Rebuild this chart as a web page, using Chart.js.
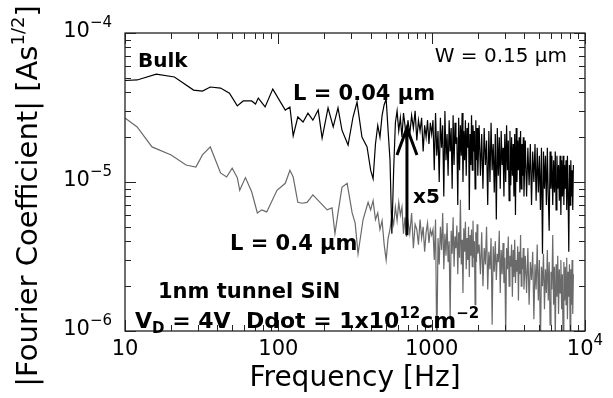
<!DOCTYPE html>
<html>
<head>
<meta charset="utf-8">
<script src="https://cdn.jsdelivr.net/npm/chart.js@4"></script>
<style>
  html, body { margin: 0; padding: 0; background: #fff; }
  #wrap { width: 613px; height: 398px; }
</style>
</head>
<body>
<div id="wrap"><canvas id="noiseChart" width="613" height="398"></canvas></div>
<script>
// values are |Fourier coefficient| in units of 1e-6 A s^1/2
const Y_UNIT = 1e-6;

// --- low-frequency part, each curve read separately ---
const freqL004 = [10, 12, 16, 21, 28, 32, 36, 42, 48, 54, 59, 67, 71, 74, 82, 92, 111, 119, 125, 134,
  145, 156, 168, 182, 193, 211, 228, 245, 260, 285, 307, 326, 351, 379];
const coefL004 = [48, 48.4, 53, 50.7, 41.4, 40.8, 43.4, 42.7, 39.5, 32.4, 35, 35, 33.4, 36.6, 31.9, 42, 30.4, 31.9, 20.4, 27.3,
  25.3, 29, 26, 30.4, 19.7, 31.4, 23.4, 31.4, 22.3, 17.7, 27.3, 34.4, 20, 17.2];

const freqL04 = [10, 12, 15, 20, 25, 29, 32, 36, 42, 46, 50, 54, 56, 61, 67, 73, 78, 84, 98, 111,
  119, 125, 134, 143, 154, 168, 187, 208, 224, 234, 245, 260, 281, 303, 317, 331, 357, 385];
const coefL04 = [26.9, 23.4, 17.2, 15.2, 13, 12.6, 15.2, 17.2, 11.5, 10.8, 12.4, 10.7, 8.8, 10.7, 8.6, 6.2, 6.5, 6.3, 8.8, 9.8,
  12, 10.8, 7.3, 7.2, 7.3, 8.2, 7.3, 6.5, 6.7, 4.5, 6.2, 9.2, 9.8, 6.2, 5.3, 3.3, 5.6, 7.3];

// --- noisy part, shared frequency grid ---
const midFreq = [400, 415, 430, 445, 460, 475, 490, 505, 520, 535, 550, 565, 580, 595, 610, 625, 640, 655, 670, 685, 700,
  720, 740, 760, 780, 800, 820, 840, 860, 880, 900, 920, 940, 960, 980, 1000];
const midL004 = [12, 10.5, 18, 24, 20, 28, 33, 36, 22, 14, 4.5, 12, 25, 30, 22, 27, 20, 29, 24, 18, 26,
  21, 28, 23, 30, 19, 26, 22, 27, 16, 24, 20, 26, 18, 25, 21];
const midL04 = [6.5, 7.5, 5.6, 6.2, 4.8, 5.5, 3.8, 3.0, 4.2, 4.8, 6.0, 5.2, 6.8, 5.5, 7.3, 6.0, 6.8, 4.5, 5.8, 4.3, 5.5,
  4.5, 6.2, 3.6, 5.2, 4.8, 3.8, 5.6, 4.2, 5.0, 3.4, 4.6, 5.3, 3.9, 4.8, 4.4];

const hiFreqA = [1020, 1040, 1060, 1080, 1100, 1120, 1140, 1160, 1180, 1200, 1220, 1240, 1260, 1280, 1300, 1320, 1340, 1360, 1380, 1400,
  1420, 1440, 1460, 1480, 1500, 1520, 1540, 1560, 1580, 1600, 1620, 1640, 1660, 1680, 1700, 1720, 1740, 1760, 1780, 1800,
  1820, 1840, 1860, 1880, 1900, 1920, 1940, 1960, 1980, 2000];
const hiFreqB = [2040, 2080, 2120, 2160, 2200, 2240, 2280, 2320, 2360, 2400, 2440, 2480, 2520, 2560, 2600, 2640, 2680, 2720, 2760, 2800,
  2840, 2880, 2920, 2960, 3000, 3040, 3080, 3120, 3160, 3200, 3240, 3280, 3320, 3360, 3400, 3440, 3480, 3520, 3560, 3600,
  3640, 3680, 3720, 3760, 3800, 3840, 3880, 3920, 3960, 4000];
const hiFreqC = [4080, 4160, 4240, 4320, 4400, 4480, 4560, 4640, 4720, 4800, 4880, 4960, 5040, 5120, 5200, 5280, 5360, 5440, 5520, 5600,
  5680, 5760, 5840, 5920, 6000, 6080, 6160, 6240, 6320, 6400, 6480, 6560, 6640, 6720, 6800, 6880, 6960, 7040, 7120, 7200,
  7280, 7360, 7440, 7520, 7600, 7680, 7760, 7840, 7920, 8000, 8080, 8160, 8240, 8320, 8400];

const hiL004A = [26, 12, 29, 15, 22, 10, 27, 17, 24, 8, 30, 14, 21, 11, 26, 16, 23, 9, 28, 13,
  25, 18, 20, 7, 27, 12, 24, 15, 29, 10, 22, 14, 26, 11, 23, 17, 25, 6.5, 21, 13,
  28, 12, 24, 16, 22, 9, 26, 14, 23, 11];
const hiL004B = [24, 11, 21, 9, 23, 13, 19, 7, 22, 10, 25, 12, 18, 8.5, 21, 5.6, 23, 11, 20, 9,
  22, 13, 17, 8, 21, 10, 24, 12, 19, 7.5, 22, 9.5, 20, 11, 18, 8, 21, 6, 23, 10,
  19, 12, 20, 8.5, 22, 9, 18, 11, 20, 8];
const hiL004C = [19, 8, 17, 9.5, 18, 7, 16, 10, 18, 7.5, 17, 8.5, 15, 6.5, 17, 3.3, 16, 9, 15, 7,
  17, 8, 4.7, 16, 9, 15, 7, 14, 8.5, 16, 6.5, 15, 9, 13, 7.5, 15, 6, 14, 8, 15,
  7, 13, 9, 14, 6.5, 15, 8, 3.4, 13, 7, 14, 8, 12, 6.5, 13];

const hiL04A = [4.8, 3.0, 5.6, 0.7, 4.2, 2.8, 5.0, 3.5, 6.2, 2.6, 4.5, 3.2, 5.3, 2.9, 4.0, 1.2, 4.7, 3.3, 5.8, 2.7,
  4.3, 3.6, 5.1, 2.4, 4.6, 3.1, 7.6, 2.8, 4.1, 1.8, 4.9, 3.4, 5.4, 2.6, 4.2, 3.0, 5.0, 2.3, 4.4, 3.2,
  4.8, 2.7, 5.5, 3.1, 4.0, 1.5, 4.6, 2.9, 5.2, 3.3];
const hiL04B = [3.8, 2.4, 4.6, 2.0, 3.6, 2.8, 5.0, 1.9, 3.4, 2.6, 4.2, 1.1, 3.7, 2.5, 4.0, 2.2, 3.3, 2.9, 4.7, 1.8,
  3.5, 2.4, 3.9, 2.1, 3.1, 0.9, 3.6, 2.6, 4.3, 2.0, 3.2, 2.7, 3.8, 1.7, 3.5, 2.3, 4.1, 2.1, 3.0, 2.5,
  3.7, 1.6, 3.4, 2.4, 4.4, 2.0, 3.1, 2.6, 3.6, 1.9];
const hiL04C = [3.2, 1.8, 3.6, 1.5, 2.9, 2.2, 3.4, 1.2, 2.8, 1.9, 3.8, 1.6, 3.0, 0.8, 2.7, 2.0, 3.3, 1.4, 2.6, 1.8,
  3.5, 1.6, 2.9, 1.1, 2.5, 1.9, 4.4, 1.5, 2.7, 0.9, 2.8, 1.7, 3.2, 1.3, 2.6, 1.8, 3.0, 1.4, 2.4, 0.8,
  2.9, 1.6, 2.7, 1.5, 3.1, 1.2, 2.5, 1.7, 2.8, 1.0, 2.6, 1.5, 3.0, 1.3, 2.4];

// axis decades
const xDecades = [10, 100, 1000, 10000];
const xDecadeExp = [null, null, null, 4];   // 10^4 written with exponent
const yDecades = [1e-6, 1e-5, 1e-4];
const yDecadeExp = [-6, -5, -4];

const FONT = '"DejaVu Sans", sans-serif';

function toPoints(freqs, coefs) {
  return freqs.map((f, i) => ({ x: f, y: coefs[i] * Y_UNIT }));
}

// draw a run of text pieces (for sub/superscripts); returns width
function textRuns(ctx, x, y, parts, draw) {
  let cx = x;
  parts.forEach(p => {
    ctx.font = (p.bold ? 'bold ' : '') + p.size + 'px ' + FONT;
    if (draw) ctx.fillText(p.t, cx, y + (p.dy || 0));
    cx += ctx.measureText(p.t).width;
  });
  return cx - x;
}

function runs(ctx, x, y, parts, align) {
  const w = textRuns(ctx, 0, 0, parts, false);
  let sx = x;
  if (align === 'center') sx = x - w / 2;
  if (align === 'right') sx = x - w;
  textRuns(ctx, sx, y, parts, true);
}

const framePlugin = {
  id: 'framePlugin',
  afterDatasetsDraw(chart) {
    const ctx = chart.ctx;
    const a = chart.chartArea;
    const xs = chart.scales.x;
    const ys = chart.scales.y;
    ctx.save();
    ctx.strokeStyle = '#222';
    ctx.fillStyle = '#000';
    ctx.textBaseline = 'alphabetic';
    ctx.textAlign = 'left';

    // box
    ctx.lineWidth = 1.3;
    ctx.strokeRect(a.left, a.top, a.right - a.left, a.bottom - a.top);

    // inner ticks
    ctx.lineWidth = 1;
    ctx.beginPath();
    for (let d = 10; d <= 10000; d *= 10) {
      for (let m = 1; m <= 9; m++) {
        const v = m * d;
        if (v > 10000) break;
        const px = Math.round(xs.getPixelForValue(v)) + 0.5;
        const len = m === 1 ? 11 : 6;
        ctx.moveTo(px, a.bottom); ctx.lineTo(px, a.bottom - len);
        ctx.moveTo(px, a.top); ctx.lineTo(px, a.top + len);
      }
    }
    for (let d = 1e-6; d <= 1.0001e-4; d *= 10) {
      for (let m = 1; m <= 9; m++) {
        const v = m * d;
        if (v > 1.0001e-4) break;
        const py = Math.round(ys.getPixelForValue(v)) + 0.5;
        const len = m === 1 ? 11 : 6;
        ctx.moveTo(a.left, py); ctx.lineTo(a.left + len, py);
        ctx.moveTo(a.right, py); ctx.lineTo(a.right - len, py);
      }
    }
    ctx.stroke();

    // x tick labels
    xDecades.forEach((v, i) => {
      const px = xs.getPixelForValue(v);
      const parts = xDecadeExp[i] === null
        ? [{ t: String(v), size: 21 }]
        : [{ t: '10', size: 21 }, { t: String(xDecadeExp[i]), size: 15, dy: -10 }];
      runs(ctx, px, a.bottom + 24, parts, 'center');
    });

    // y tick labels
    yDecades.forEach((v, i) => {
      const py = ys.getPixelForValue(v);
      runs(ctx, a.left - 13, py + 4, [
        { t: '10', size: 21 },
        { t: '\u2212' + Math.abs(yDecadeExp[i]), size: 15, dy: -10 }
      ], 'right');
    });

    // axis titles
    runs(ctx, (a.left + a.right) / 2, 386, [{ t: 'Frequency [Hz]', size: 28 }], 'center');
    ctx.save();
    ctx.translate(37, 196);
    ctx.rotate(-Math.PI / 2);
    runs(ctx, 0, 0, [
      { t: '|Fourier Coefficient| [As', size: 29 },
      { t: '1/2', size: 18, dy: -13 },
      { t: ']', size: 29 }
    ], 'center');
    ctx.restore();

    // annotations
    runs(ctx, 138, 67, [{ t: 'Bulk', size: 20, bold: true }]);
    runs(ctx, 567, 62, [{ t: 'W = 0.15 \u00b5m', size: 20 }], 'right');
    runs(ctx, 293, 100, [{ t: 'L = 0.04 \u00b5m', size: 21, bold: true }]);
    runs(ctx, 230, 250, [{ t: 'L = 0.4 \u00b5m', size: 21, bold: true }]);
    runs(ctx, 413, 203, [{ t: 'x5', size: 20, bold: true }]);
    runs(ctx, 158, 298, [{ t: '1nm tunnel SiN', size: 21, bold: true }]);
    runs(ctx, 135, 328, [
      { t: 'V', size: 22, bold: true },
      { t: 'D', size: 15, bold: true, dy: 5 },
      { t: ' = 4V  Ddot = 1x10', size: 22, bold: true },
      { t: '12', size: 15, bold: true, dy: -10 },
      { t: 'cm', size: 22, bold: true },
      { t: '\u22122', size: 15, bold: true, dy: -10 }
    ]);

    // x5 arrow
    const ax = xs.getPixelForValue(690);
    const yTip = ys.getPixelForValue(2.3e-5);
    const yEnd = ys.getPixelForValue(4.4e-6);
    ctx.strokeStyle = '#000';
    ctx.lineWidth = 3;
    ctx.beginPath();
    ctx.moveTo(ax, yEnd); ctx.lineTo(ax, yTip + 2);
    ctx.moveTo(ax - 10, yTip + 27); ctx.lineTo(ax, yTip); ctx.lineTo(ax + 10, yTip + 27);
    ctx.stroke();

    ctx.restore();
  }
};

const freqAll004 = freqL004.concat(midFreq, hiFreqA, hiFreqB, hiFreqC);
const coefAll004 = coefL004.concat(midL004, hiL004A, hiL004B, hiL004C);
const freqAll04 = freqL04.concat(midFreq, hiFreqA, hiFreqB, hiFreqC);
const coefAll04 = coefL04.concat(midL04, hiL04A, hiL04B, hiL04C);

new Chart(document.getElementById('noiseChart'), {
  type: 'line',
  data: {
    datasets: [
      {
        label: 'L = 0.04 um',
        data: toPoints(freqAll004, coefAll004),
        borderColor: '#000',
        borderWidth: 1.2,
        pointRadius: 0,
        tension: 0
      },
      {
        label: 'L = 0.4 um',
        data: toPoints(freqAll04, coefAll04),
        borderColor: '#6a6a6a',
        borderWidth: 1.2,
        pointRadius: 0,
        tension: 0
      }
    ]
  },
  options: {
    responsive: false,
    animation: false,
    devicePixelRatio: 1,
    layout: { padding: { left: 125, right: 28, top: 33, bottom: 67 } },
    plugins: { legend: { display: false }, tooltip: { enabled: false } },
    scales: {
      x: { type: 'logarithmic', min: 10, max: 10000, display: false },
      y: { type: 'logarithmic', min: 1e-6, max: 1e-4, display: false }
    }
  },
  plugins: [framePlugin]
});
</script>
</body>
</html>
